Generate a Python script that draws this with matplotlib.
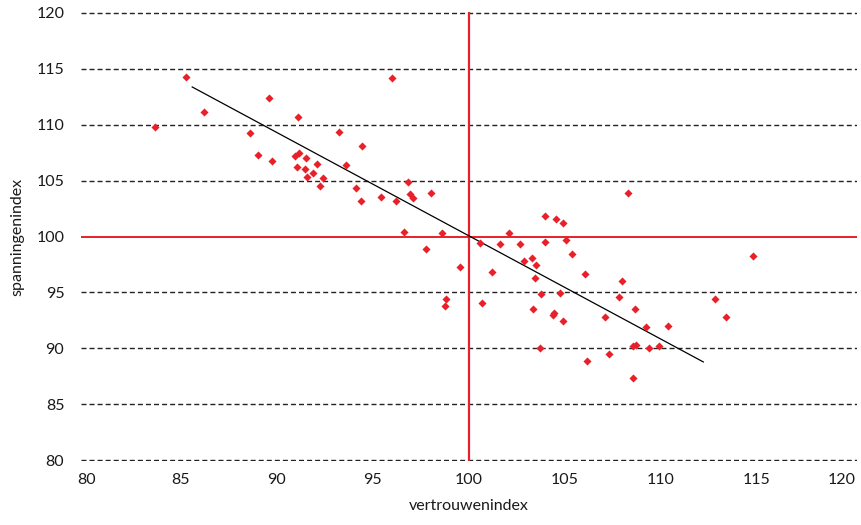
import numpy as np
import matplotlib
matplotlib.use('Agg')
import matplotlib.pyplot as plt
from matplotlib.transforms import ScaledTranslation

plt.rcParams['font.family'] = ['Lato', 'DejaVu Sans']

# vertrouwenindex (x) en spanningenindex (y)
vertrouwen = [83.69, 85.30, 86.24, 88.64, 89.05, 89.59, 89.75, 91.12, 90.95, 91.17,
              91.55, 91.08, 91.50, 92.13, 91.89, 91.59, 92.44, 92.25, 93.26, 93.64,
              94.14, 94.39, 94.45, 95.46, 96.03, 96.21, 96.64, 96.83, 96.94, 97.09,
              98.05, 97.79, 98.64, 99.54, 98.81, 98.78, 100.61, 100.72, 101.66, 102.11,
              102.68, 101.24, 102.88, 103.29, 103.53, 103.46, 103.79, 103.36, 103.74, 104.00,
              103.97, 104.56, 104.91, 105.06, 105.41, 104.75, 104.39, 104.44, 104.94, 106.05,
              106.17, 107.09, 107.32, 108.01, 107.82, 108.69, 108.55, 108.72, 108.55, 109.26,
              109.40, 108.31, 110.38, 109.91, 112.82, 113.41, 114.83]
spanning = [109.74, 114.21, 111.08, 109.23, 107.27, 112.39, 106.78, 110.63, 107.23, 107.45,
            107.02, 106.22, 106.04, 106.46, 105.66, 105.30, 105.23, 104.55, 109.32, 106.34,
            104.34, 103.15, 108.07, 103.51, 114.18, 103.15, 100.38, 104.88, 103.78, 103.42,
            103.92, 98.85, 100.29, 97.27, 94.41, 93.75, 99.45, 94.05, 99.30, 100.29,
            99.36, 96.82, 97.78, 98.08, 97.42, 96.29, 94.85, 93.57, 90.05, 101.86,
            99.51, 101.59, 101.18, 99.66, 98.41, 94.97, 92.95, 93.18, 92.47, 96.67,
            88.86, 92.77, 89.51, 96.02, 94.59, 93.49, 90.20, 90.29, 87.40, 91.93,
            90.05, 103.87, 92.05, 90.20, 94.38, 92.77, 98.23]

# trendlijn (begin- en eindpunt zoals in de grafiek)
trend_x = [85.61, 112.23]
trend_y = [113.35, 88.80]

ticks = [80, 85, 90, 95, 100, 105, 110, 115, 120]
red = '#e8202a'
txt = '#1a1a1a'

fig = plt.figure(figsize=(8.61, 5.25), dpi=100)
ax = fig.add_axes([81 / 861, 1 - 461 / 525, 776 / 861, 449 / 525])

# gridlijnen, 100 in rood
for t in ticks:
    if t == 100:
        continue
    ax.axhline(t, color='#222222', lw=1.0, linestyle=(0, (3.6, 2.2)), zorder=1)
ax.axhline(100, color=red, lw=1.4, zorder=2)
ax.axvline(100, color=red, lw=1.6, zorder=2)

ax.plot(trend_x, trend_y, color='black', lw=0.9, zorder=3)
ax.scatter(vertrouwen, spanning, marker='D', s=17, color=red, linewidths=0, zorder=4)

ax.set_xlim(80 - 3.5 / 19.2, 120 + 4.5 / 19.2)
ax.set_ylim(80 - 0.5 / 11.175, 120 + 0.5 / 11.175)
ax.set_xticks(ticks)
ax.set_yticks(ticks)
ax.tick_params(length=0, labelsize=11.5, colors=txt)
ax.tick_params(axis='x', pad=9)
ax.tick_params(axis='y', pad=12)
for s in ax.spines.values():
    s.set_visible(False)

# buitenste labels iets naar binnen, zoals in het origineel
xlabels = ax.get_xticklabels()
xlabels[0].set_transform(xlabels[0].get_transform() + ScaledTranslation(2.5 / 100, 0, fig.dpi_scale_trans))
xlabels[-1].set_horizontalalignment('right')
xlabels[-1].set_transform(xlabels[-1].get_transform() + ScaledTranslation(3 / 100, 0, fig.dpi_scale_trans))

ax.set_xlabel('vertrouwenindex', fontsize=11.5, color=txt, labelpad=8)
ax.set_ylabel('spanningenindex', fontsize=11.5, color=txt)
ax.yaxis.set_label_coords(-0.073, 0.5)

fig.savefig('out.png', dpi=100)
